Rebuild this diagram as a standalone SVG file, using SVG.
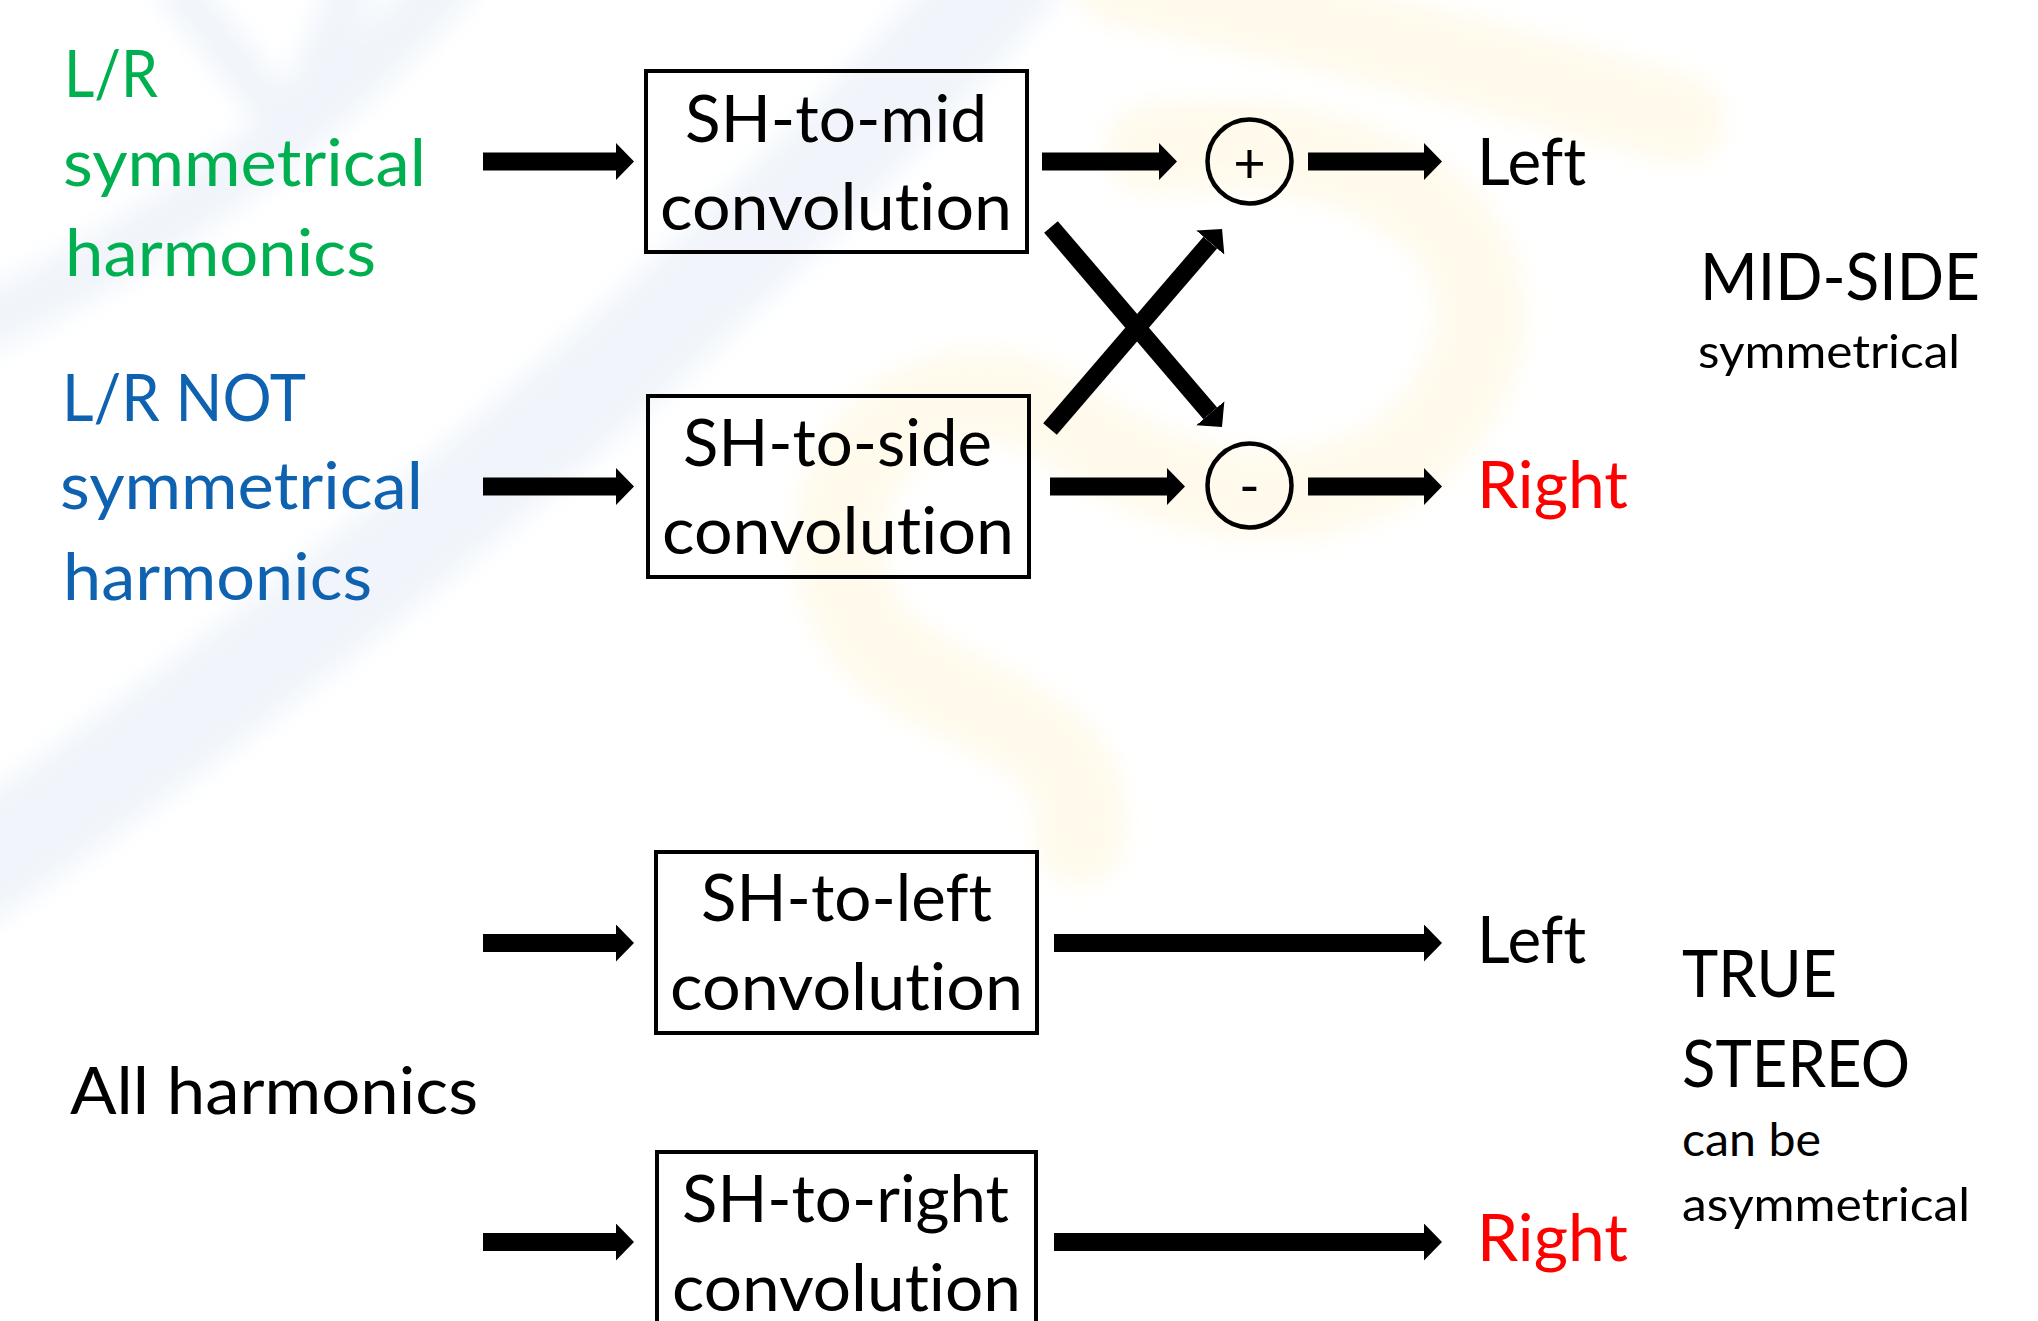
<svg xmlns="http://www.w3.org/2000/svg" width="2038" height="1321" viewBox="0 0 2038 1321">
  <style>
    text { font-family: Lato, "Open Sans", "Liberation Sans", sans-serif; font-variant-ligatures: none; font-feature-settings: "liga" 0, "clig" 0, "dlig" 0; }
    .big { font-size: 66px; }
    .small { font-size: 47px; }
    .green { fill: #00B050; }
    .blue { fill: #0F62B0; }
    .black { fill: #000000; }
    .red { fill: #FF0000; }
    .box { fill: none; stroke: #000000; stroke-width: 4; }
    .sum { fill: none; stroke: #000000; stroke-width: 4.5; }
    .arrow { stroke: #000000; stroke-width: 18; stroke-linecap: butt; fill: none; marker-end: url(#head); }
    .wm-blue { fill: none; stroke: #F1F5FB; stroke-linecap: round; }
    .wm-yellow { fill: none; stroke: #FFFAEC; stroke-linecap: round; }
  </style>
  <defs>
    <marker id="head" markerUnits="userSpaceOnUse" markerWidth="18" markerHeight="37" viewBox="0 0 18 37" refX="0" refY="18.5" orient="auto">
      <path d="M0,0 L18,18.5 L0,37 Z" fill="#000000"/>
    </marker>
    <filter id="soft" x="-10%" y="-10%" width="120%" height="120%">
      <feGaussianBlur stdDeviation="12"/>
    </filter>
  </defs>

  <rect x="0" y="0" width="2038" height="1321" fill="#FFFFFF"/>

  <g id="watermark" filter="url(#soft)">
    <path class="wm-blue" stroke-width="110" d="M1010,-30 Q620,420 -40,880"/>
    <path class="wm-blue" stroke-width="60" d="M450,-20 Q250,200 -30,330"/>
    <path class="wm-blue" stroke-width="45" d="M180,-10 L290,130 L350,-10"/>
    <path class="wm-yellow" stroke-width="90" d="M1120,-20 Q1400,40 1680,120"/>
    <path class="wm-yellow" stroke-width="90" d="M1150,150 C1400,120 1560,260 1440,420 C1360,520 1200,520 1060,420 C930,340 800,470 850,600 C900,720 1100,700 1080,840"/>
  </g>

  <g id="input-symmetrical">
    <text class="big green" x="64" y="97" textLength="94" lengthAdjust="spacingAndGlyphs">L/R</text>
    <text class="big green" x="63" y="186" textLength="363" lengthAdjust="spacingAndGlyphs">symmetrical</text>
    <text class="big green" x="65" y="276" textLength="311" lengthAdjust="spacingAndGlyphs">harmonics</text>
  </g>
  <g id="input-not-symmetrical">
    <text class="big blue" x="62" y="421" textLength="244" lengthAdjust="spacingAndGlyphs">L/R NOT</text>
    <text class="big blue" x="60" y="509" textLength="363" lengthAdjust="spacingAndGlyphs">symmetrical</text>
    <text class="big blue" x="63" y="600" textLength="309" lengthAdjust="spacingAndGlyphs">harmonics</text>
  </g>
  <g id="input-all">
    <text class="big black" x="70" y="1114" textLength="408" lengthAdjust="spacingAndGlyphs">All harmonics</text>
  </g>

  <g id="box-mid">
    <rect class="box" x="646" y="71" width="381" height="181"/>
    <text class="big black" x="685" y="142" textLength="302" lengthAdjust="spacingAndGlyphs">SH-to-mid</text>
    <text class="big black" x="660" y="230" textLength="352" lengthAdjust="spacingAndGlyphs">convolution</text>
  </g>
  <g id="box-side">
    <rect class="box" x="648" y="396" width="381" height="181"/>
    <text class="big black" x="683" y="466" textLength="309" lengthAdjust="spacingAndGlyphs">SH-to-side</text>
    <text class="big black" x="662" y="554" textLength="352" lengthAdjust="spacingAndGlyphs">convolution</text>
  </g>
  <g id="box-left">
    <rect class="box" x="656" y="852" width="381" height="181"/>
    <text class="big black" x="701" y="921" textLength="291" lengthAdjust="spacingAndGlyphs">SH-to-left</text>
    <text class="big black" x="670" y="1010" textLength="353" lengthAdjust="spacingAndGlyphs">convolution</text>
  </g>
  <g id="box-right">
    <rect class="box" x="657" y="1152" width="379" height="181"/>
    <text class="big black" x="682" y="1222" textLength="327" lengthAdjust="spacingAndGlyphs">SH-to-right</text>
    <text class="big black" x="672" y="1311" textLength="349" lengthAdjust="spacingAndGlyphs">convolution</text>
  </g>

  <g id="sum-plus">
    <circle class="sum" cx="1249.5" cy="161.5" r="42"/>
    <text class="black" x="1249.5" y="183" font-size="56" text-anchor="middle">+</text>
  </g>
  <g id="sum-minus">
    <circle class="sum" cx="1249.5" cy="485.5" r="42"/>
    <text class="black" x="1249.5" y="506" font-size="56" text-anchor="middle">-</text>
  </g>

  <g id="out-left-ms">
    <text class="big black" x="1477" y="185" textLength="109" lengthAdjust="spacingAndGlyphs">Left</text>
  </g>
  <g id="out-right-ms">
    <text class="big red" x="1477" y="508" textLength="151" lengthAdjust="spacingAndGlyphs">Right</text>
  </g>
  <g id="out-left-ts">
    <text class="big black" x="1477" y="963" textLength="109" lengthAdjust="spacingAndGlyphs">Left</text>
  </g>
  <g id="out-right-ts">
    <text class="big red" x="1477" y="1261" textLength="151" lengthAdjust="spacingAndGlyphs">Right</text>
  </g>

  <g id="label-mid-side">
    <text class="big black" x="1700" y="300" textLength="280" lengthAdjust="spacingAndGlyphs">MID-SIDE</text>
    <text class="small black" x="1698" y="368" textLength="262" lengthAdjust="spacingAndGlyphs">symmetrical</text>
  </g>
  <g id="label-true-stereo">
    <text class="big black" x="1682" y="997" textLength="155" lengthAdjust="spacingAndGlyphs">TRUE</text>
    <text class="big black" x="1682" y="1087" textLength="228" lengthAdjust="spacingAndGlyphs">STEREO</text>
    <text class="small black" x="1682" y="1156" textLength="139" lengthAdjust="spacingAndGlyphs">can be</text>
    <text class="small black" x="1682" y="1221" textLength="288" lengthAdjust="spacingAndGlyphs">asymmetrical</text>
  </g>

  <g id="connectors">
    <line class="arrow" x1="483" y1="161.5" x2="616" y2="161.5"/>
    <line class="arrow" x1="483" y1="486.5" x2="616" y2="486.5"/>
    <line class="arrow" x1="483" y1="943" x2="616" y2="943"/>
    <line class="arrow" x1="483" y1="1242" x2="616" y2="1242"/>
    <line class="arrow" x1="1042" y1="161.5" x2="1159" y2="161.5"/>
    <line class="arrow" x1="1050" y1="486.5" x2="1167" y2="486.5"/>
    <line class="arrow" x1="1308" y1="161.5" x2="1424" y2="161.5"/>
    <line class="arrow" x1="1308" y1="486.5" x2="1424" y2="486.5"/>
    <line class="arrow" x1="1054" y1="943" x2="1424" y2="943"/>
    <line class="arrow" x1="1054" y1="1242" x2="1424" y2="1242"/>
    <line class="arrow" x1="1051" y1="227" x2="1210.3" y2="413.3"/>
    <line class="arrow" x1="1050" y1="429" x2="1210.3" y2="242.6"/>
  </g>
</svg>
